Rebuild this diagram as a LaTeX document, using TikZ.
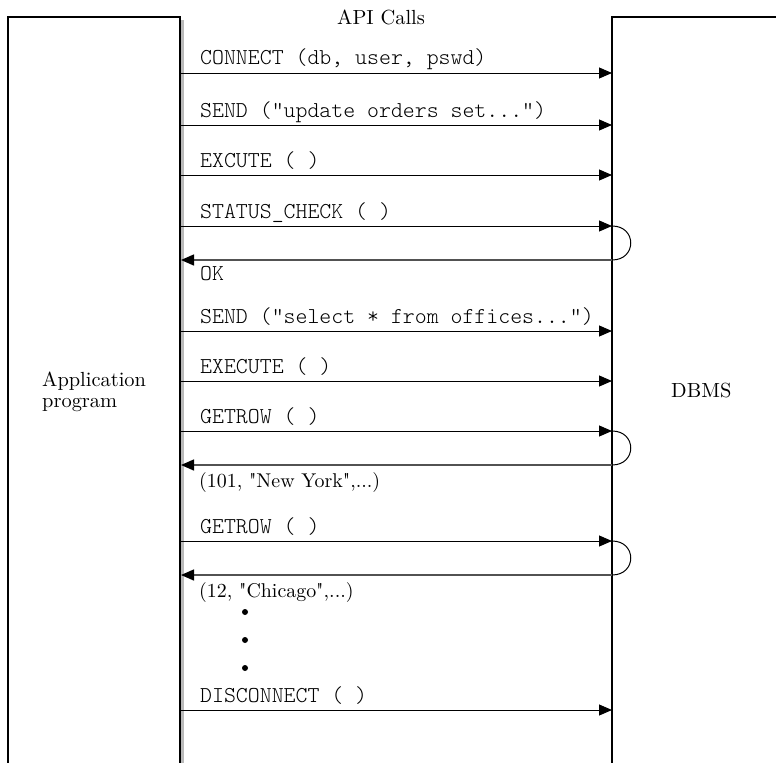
\documentclass[tikz,border=0pt]{standalone}
\usepackage{fontspec}
\newfontfamily\serif{lmroman10-regular.otf}
\newfontfamily\mono{lmmonolt10-regular.otf}
\usetikzlibrary{arrows.meta}
\begin{document}
\begin{tikzpicture}[x=1bp,y=-1bp,
  call/.style={line width=1bp,draw=black,-{Triangle[length=13bp,width=11bp,color=black]}},
  ret/.style={line width=1.4bp,draw=black!68,-{Triangle[length=13bp,width=11bp,color=black]}},
  loopline/.style={line width=1bp,draw=black},
  boxline/.style={line width=1.1bp,draw=black},
  mlabel/.style={anchor=base west,inner sep=0pt,font=\mono\fontsize{22.8}{26}\selectfont},
  slabel/.style={anchor=base west,inner sep=0pt,font=\serif\fontsize{20}{24}\selectfont},
  tlabel/.style={anchor=base west,inner sep=0pt,font=\serif\fontsize{20.5}{24}\selectfont},
  dotnode/.style={circle,fill=black,inner sep=0pt,minimum size=6bp}]
\useasboundingbox (0,0) rectangle (776,763);
\clip (0,0) rectangle (776,763);
% boxes
\fill[black!27] (181,20) rectangle (184,775);
\draw[boxline] (8,775) -- (8,17) -- (180,17) -- (180,775);
\draw[boxline] (612,775) -- (612,17) -- (790,17);
% titles
\node[tlabel] (api) at (337,25) {API Calls};
\node[tlabel] (app1) at (42,386) {Application};
\node[tlabel] (app2) at (42,407) {program};
\node[tlabel] (dbms) at (671,397) {DBMS};
% calls
\coordinate (a1) at (180,73);  \coordinate (b1) at (612,73);
\coordinate (a2) at (180,125); \coordinate (b2) at (612,125);
\coordinate (a3) at (180,175); \coordinate (b3) at (612,175);
\coordinate (a4) at (180,226); \coordinate (b4) at (612,226);
\coordinate (a5) at (180,331); \coordinate (b5) at (612,331);
\coordinate (a6) at (180,381); \coordinate (b6) at (612,381);
\coordinate (a7) at (180,431); \coordinate (b7) at (612,431);
\coordinate (a8) at (180,541); \coordinate (b8) at (612,541);
\coordinate (a9) at (180,710); \coordinate (b9) at (612,710);
\foreach \i in {1,...,9} {\draw[call] (a\i) -- (b\i);}
\node[mlabel] (l1) at (200,65) {CONNECT (db, user, pswd)};
\node[mlabel] (l2) at (200,117) {SEND ("update orders set...")};
\node[mlabel] (l3) at (200,167) {EXCUTE ( )};
\node[mlabel] (l4) at (200,218) {STATUS\_CHECK ( )};
\node[mlabel] (l5) at (200,323) {SEND ("select * from offices...")};
\node[mlabel] (l6) at (200,373) {EXECUTE ( )};
\node[mlabel] (l7) at (200,423) {GETROW ( )};
\node[mlabel] (l8) at (200,533) {GETROW ( )};
\node[mlabel] (l9) at (200,702) {DISCONNECT ( )};
% returns
\coordinate (r4) at (612,260); \coordinate (s4) at (181,260);
\coordinate (r7) at (612,465); \coordinate (s7) at (181,465);
\coordinate (r8) at (612,575); \coordinate (s8) at (181,575);
\foreach \i in {4,7,8} {
  \draw[loopline] (b\i) .. controls +(25,0) and +(25,0) .. (r\i);
  \draw[ret] (r\i) -- (s\i);
}
\node[mlabel] (k4) at (200,280) {OK};
\node[slabel] (k7) at (199,487) {(101, "New York",...)};
\node[slabel] (k8) at (199,597) {(12, "Chicago",...)};
% dots
\node[dotnode] (d1) at (245,612) {};
\node[dotnode] (d2) at (245,640) {};
\node[dotnode] (d3) at (245,668) {};
\end{tikzpicture}
\end{document}
